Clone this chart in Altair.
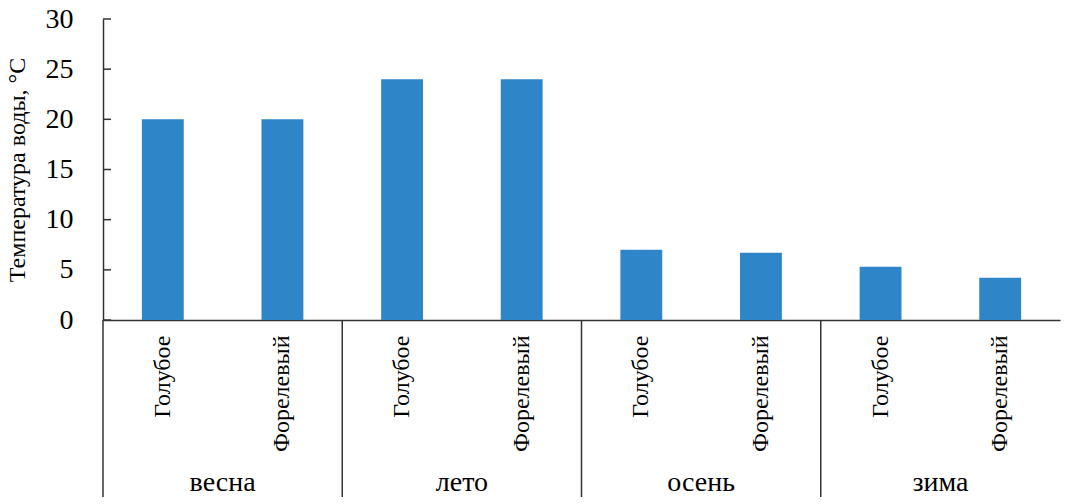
import altair as alt
import pandas as pd

# Water temperature by season at two sites
seasons = ["весна", "лето", "осень", "зима"]
sites = ["Голубое", "Форелевый"]
temp_goluboe = [20, 24, 7, 5.3]
temp_forel = [20, 24, 6.7, 4.2]
y_ticks = [0, 5, 10, 15, 20, 25, 30]

FONT = "Liberation Serif"
AXIS_COLOR = "#333333"
BAR_COLOR = "#2e86c8"

rows = []
for i, s in enumerate(seasons):
    for site, vals in zip(sites, [temp_goluboe, temp_forel]):
        rows.append({"season": s, "site": site, "key": f"{s}|{site}", "temp": vals[i]})
df = pd.DataFrame(rows)
keys = list(df["key"])

groups = pd.DataFrame({"season": seasons, "key": [f"{s}|{sites[0]}" for s in seasons]})
ticks_df = pd.DataFrame({"v": y_ticks})

x_scale = alt.Scale(domain=keys, paddingInner=0, paddingOuter=0)
y_scale = alt.Scale(domain=[0, 30], nice=False)

bars = alt.Chart(df).mark_bar(width=alt.RelativeBandSize(0.35), color=BAR_COLOR).encode(
    x=alt.X(
        "key:N",
        sort=keys,
        scale=x_scale,
        axis=alt.Axis(
            title=None,
            labelExpr="split(datum.label, '|')[1]",
            labelAngle=-90,
            labelPadding=15,
            labelFont=FONT,
            labelFontSize=24,
            ticks=False,
            grid=False,
            domainColor=AXIS_COLOR,
            domainWidth=1.5,
        ),
    ),
    y=alt.Y(
        "temp:Q",
        scale=y_scale,
        axis=alt.Axis(
            title="Температура воды, °С",
            titleFont=FONT,
            titleFontSize=24,
            titleFontWeight="normal",
            titlePadding=16,
            values=y_ticks,
            labelFont=FONT,
            labelFontSize=28,
            labelPadding=30,
            ticks=False,
            grid=False,
            domainColor=AXIS_COLOR,
            domainWidth=1.5,
        ),
    ),
)

# inward tick marks on the value axis
tick_marks = alt.Chart(ticks_df).mark_rule(color=AXIS_COLOR, strokeWidth=1.5).encode(
    y=alt.Y("v:Q", scale=y_scale),
    x=alt.value(0),
    x2=alt.value(8),
)

# vertical separators between season groups below the axis
separators = alt.Chart(groups).mark_rule(color=AXIS_COLOR, strokeWidth=1.5).encode(
    x=alt.X("key:N", sort=keys, scale=x_scale, bandPosition=0),
    y=alt.value(301),
    y2=alt.value(478),
)

# season names centred under each pair of bars
season_labels = alt.Chart(groups).mark_text(font=FONT, fontSize=28, baseline="alphabetic").encode(
    x=alt.X("key:N", sort=keys, scale=x_scale, bandPosition=1),
    y=alt.value(472),
    text="season:N",
)

chart = alt.layer(bars, tick_marks, separators, season_labels).properties(
    width=957,
    height=301,
    view=alt.ViewBackground(stroke=None),
)

chart.save("out.html", embed_options={"renderer": "svg", "actions": False})
